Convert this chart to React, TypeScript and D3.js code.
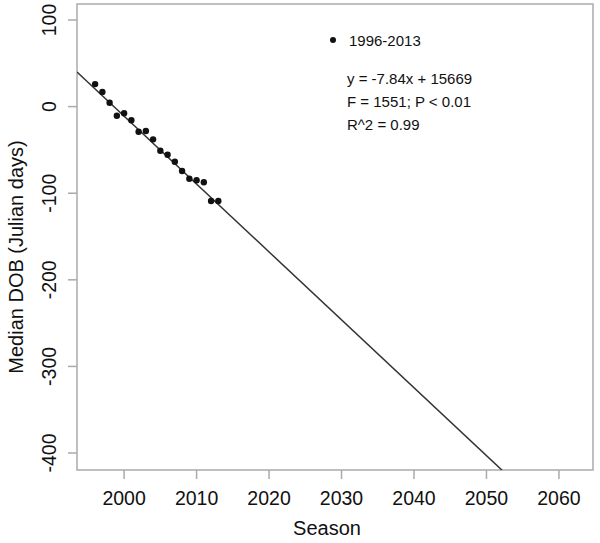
import React from "react";
import * as d3 from "d3";

const seasons = [1996, 1997, 1998, 1999, 2000, 2001, 2002, 2003, 2004, 2005, 2006, 2007, 2008, 2009, 2010, 2011, 2012, 2013];
const medianDOB = [26, 17, 4.5, -10.5, -7.7, -15.8, -29, -28.2, -37.8, -50.9, -55.5, -63.6, -74.4, -83.3, -85.1, -87.4, -109, -109];
const xTicks = [2000, 2010, 2020, 2030, 2040, 2050, 2060];
const yTicks = [100, 0, -100, -200, -300, -400];
const fit = { slope: -7.84, intercept: 15669 };
const legendLines = ["y = -7.84x + 15669", "F = 1551; P < 0.01", "R^2 = 0.99"];

const font = "'Liberation Sans', Arial, sans-serif";

export default function App() {
  const width = 600;
  const height = 543;
  const left = 77;
  const right = 593;
  const top = 4;
  const bottom = 470;

  const x = d3.scaleLinear().domain([1993.5, 2064.7]).range([left, right]);
  const y = d3.scaleLinear().domain([-419.6, 118.5]).range([bottom, top]);

  const points = seasons.map((s, i) => ({ s, v: medianDOB[i] }));

  // regression line across the visible range
  const fx = x.domain();
  const lineData = [fx[0], fx[1]].map((s) => ({ s, v: fit.slope * s + fit.intercept }));
  const line = d3
    .line<{ s: number; v: number }>()
    .x((d) => x(d.s))
    .y((d) => y(d.v));

  return (
    <svg
      width={width}
      height={height}
      style={{ position: "absolute", left: 0, top: 0, background: "#fff" }}
    >
      <defs>
        <clipPath id="plot">
          <rect x={left} y={top} width={right - left} height={bottom - top} />
        </clipPath>
      </defs>

      {/* box */}
      <rect
        x={left}
        y={top}
        width={right - left}
        height={bottom - top}
        fill="none"
        stroke="#aaa"
        strokeWidth={1.5}
      />

      {/* x axis */}
      {xTicks.map((t) => (
        <g key={t}>
          <line x1={x(t)} x2={x(t)} y1={bottom} y2={bottom + 9} stroke="#aaa" strokeWidth={1.5} />
          <text
            x={x(t)}
            y={505}
            textAnchor="middle"
            fontFamily={font}
            fontSize={19.5}
            fill="#111"
          >
            {t}
          </text>
        </g>
      ))}
      <text x={327} y={535} textAnchor="middle" fontFamily={font} fontSize={20} fill="#111">
        Season
      </text>

      {/* y axis */}
      {yTicks.map((t) => (
        <g key={t}>
          <line x1={left} x2={left - 9} y1={y(t)} y2={y(t)} stroke="#aaa" strokeWidth={1.5} />
          <text
            transform={`translate(56,${y(t)}) rotate(-90)`}
            textAnchor="middle"
            fontFamily={font}
            fontSize={19.5}
            fill="#111"
          >
            {t}
          </text>
        </g>
      ))}
      <text
        transform={`translate(23,${(top + bottom) / 2 + 20}) rotate(-90)`}
        textAnchor="middle"
        fontFamily={font}
        fontSize={20}
        fill="#111"
      >
        Median DOB (Julian days)
      </text>

      {/* fit line */}
      <path d={line(lineData) || ""} stroke="#333" strokeWidth={1.5} fill="none" clipPath="url(#plot)" />

      {/* points */}
      {points.map((p) => (
        <circle key={p.s} cx={x(p.s)} cy={y(p.v)} r={3.2} fill="#111" />
      ))}

      {/* legend */}
      <circle cx={333} cy={40} r={3} fill="#111" />
      <text x={349} y={46} fontFamily={font} fontSize={15} fill="#111">
        1996-2013
      </text>
      {legendLines.map((t, i) => (
        <text key={t} x={347} y={84 + i * 23} fontFamily={font} fontSize={15} fill="#111">
          {t}
        </text>
      ))}
    </svg>
  );
}
